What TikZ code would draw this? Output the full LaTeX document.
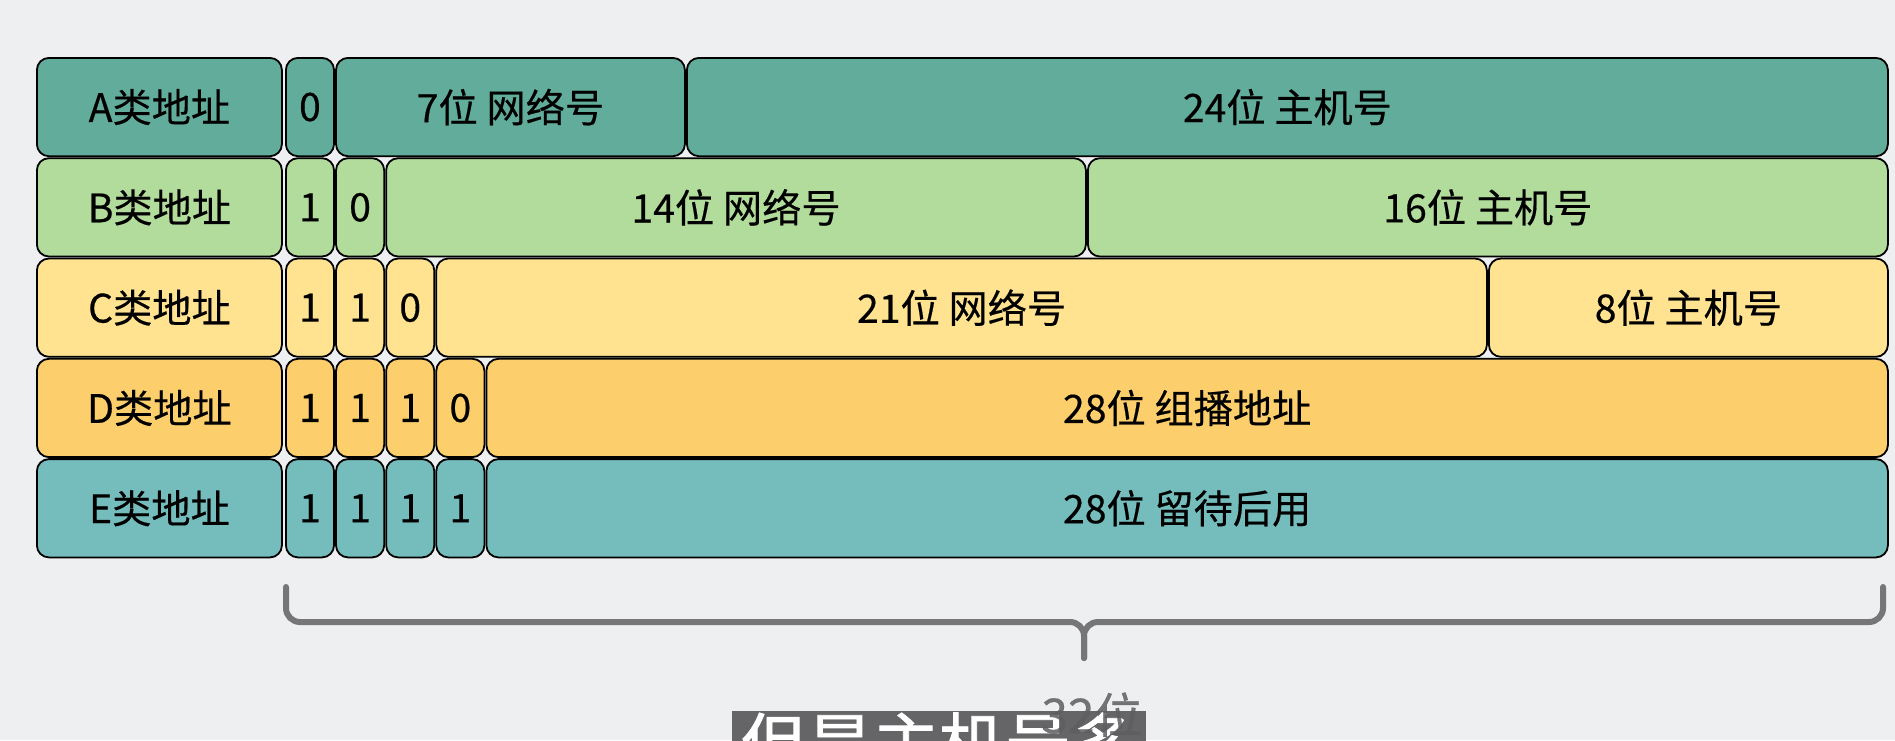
\documentclass[tikz,border=0pt]{standalone}
\usepackage{fontspec}
\setmainfont{Noto Sans CJK SC}[FakeBold=0.4]
\newfontfamily\subfont{Noto Sans CJK SC}[FakeBold=1.2]
\definecolor{bgc}{HTML}{EEEFF1}
\definecolor{cA}{HTML}{62AC9B}
\definecolor{cB}{HTML}{B2DC9B}
\definecolor{cC}{HTML}{FFE391}
\definecolor{cD}{HTML}{FDCE6C}
\definecolor{cE}{HTML}{75BDBC}
\definecolor{brc}{HTML}{767678}
\definecolor{subc}{HTML}{5E5E60}
\tikzset{
  cellbox/.style={draw=black, line width=0.9pt, rounded corners=6pt, inner sep=0pt,
    anchor=north west, minimum height=49.15pt, font=\fontsize{19.6}{21}\selectfont, text=black},
  bracestyle/.style={draw=brc, line width=3pt, rounded corners=7pt, line cap=round}
}
\newcommand\mycell[6]{%
  \pgfmathsetmacro\cw{(#3-#2-2)*0.5}%
  \node[cellbox, fill=#5, minimum width=\cw pt] (#1) at (#2+1,#4+1) {#6};}
\begin{document}
\begin{tikzpicture}[x=0.5pt,y=-0.5pt]
\fill[bgc] (0,0) rectangle (1895,740);
\useasboundingbox (0,0) rectangle (1895,740);
\begin{scope}
\clip (0,0) rectangle (1895,740);
% Row A
\mycell{la}{35}{282}{56}{cA}{A类地址}
\mycell{a0}{284}{334.125}{56}{cA}{0}
\mycell{anet}{334.125}{685}{56}{cA}{7位 网络号}
\mycell{ahost}{685}{1888}{56}{cA}{24位 主机号}
% Row B
\mycell{lb}{35}{282}{156.3}{cB}{B类地址}
\mycell{b0}{284}{334.125}{156.3}{cB}{1}
\mycell{b1}{334.125}{384.25}{156.3}{cB}{0}
\mycell{bnet}{384.25}{1086}{156.3}{cB}{14位 网络号}
\mycell{bhost}{1086}{1888}{156.3}{cB}{16位 主机号}
% Row C
\mycell{lc}{35}{282}{256.6}{cC}{C类地址}
\mycell{c0}{284}{334.125}{256.6}{cC}{1}
\mycell{c1}{334.125}{384.25}{256.6}{cC}{1}
\mycell{c2}{384.25}{434.375}{256.6}{cC}{0}
\mycell{cnet}{434.375}{1487}{256.6}{cC}{21位 网络号}
\mycell{chost}{1487}{1888}{256.6}{cC}{8位 主机号}
% Row D
\mycell{ld}{35}{282}{356.9}{cD}{D类地址}
\mycell{d0}{284}{334.125}{356.9}{cD}{1}
\mycell{d1}{334.125}{384.25}{356.9}{cD}{1}
\mycell{d2}{384.25}{434.375}{356.9}{cD}{1}
\mycell{d3}{434.375}{484.5}{356.9}{cD}{0}
\mycell{dmc}{484.5}{1888}{356.9}{cD}{28位 组播地址}
% Row E
\mycell{le}{35}{282}{457.2}{cE}{E类地址}
\mycell{e0}{284}{334.125}{457.2}{cE}{1}
\mycell{e1}{334.125}{384.25}{457.2}{cE}{1}
\mycell{e2}{384.25}{434.375}{457.2}{cE}{1}
\mycell{e3}{434.375}{484.5}{457.2}{cE}{1}
\mycell{eres}{484.5}{1888}{457.2}{cE}{28位 留待后用}
% Brace
\coordinate (bl) at (286,587);
\coordinate (br) at (1883,587);
\coordinate (bm) at (1084,622);
\coordinate (bt) at (1084,658);
\draw[bracestyle] (bl) |- (bm) -- (bt);
\draw[bracestyle] (br) |- (bm) -- (bt);
% subtitle overlay
\fill[subc, opacity=0.95] (732,711) rectangle (1146,760);
\node[anchor=north, text=white, font=\subfont\fontsize{33}{36}\selectfont, inner sep=0pt] (sub) at (939,712) {但是主机号多};
\node[anchor=north, text=brc!80!black, font=\fontsize{24}{26}\selectfont, inner sep=0pt, opacity=0.85] (bits) at (1092,692) {32位};
\end{scope}
\end{tikzpicture}
\end{document}
